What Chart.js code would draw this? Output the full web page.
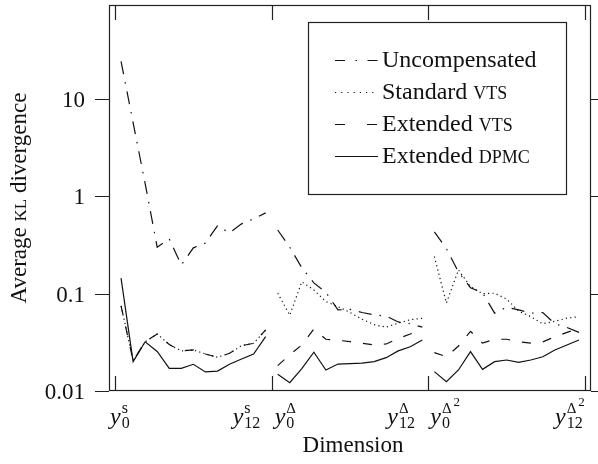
<!DOCTYPE html>
<html>
<head>
<meta charset="utf-8">
<script src="https://cdn.jsdelivr.net/npm/chart.js@4"></script>
<style>
    html, body { margin: 0; padding: 0; background: #fff; }
    #wrap { width: 598px; height: 464px; }
</style>
</head>
<body>
<div id="wrap"><canvas id="chart" width="598" height="464"></canvas></div>
<script>
// Data: 13 dimensions (y0..y12) for each group: static, delta, delta-delta
const groupSize = 13;

const uncompensated = [
    [24.2, 5.7, 1.35, 0.30, 0.365, 0.197, 0.295, 0.33, 0.497, 0.42, 0.52, 0.586, 0.675],
    [0.45, 0.30, 0.184, 0.129, 0.103, 0.068, 0.069, 0.064, 0.0605, 0.0588, 0.0512, 0.049, 0.0452],
    [0.43, 0.29, 0.167, 0.115, 0.102, 0.063, 0.0725, 0.068, 0.063, 0.064, 0.049, 0.045, 0.040]
];
const standardVts = [
    [0.075, 0.0205, 0.032, 0.0385, 0.030, 0.0258, 0.0264, 0.024, 0.0222, 0.0244, 0.0292, 0.0309, 0.0424],
    [0.101, 0.060, 0.132, 0.109, 0.083, 0.0735, 0.064, 0.0546, 0.048, 0.0452, 0.0497, 0.054, 0.0558],
    [0.24, 0.08, 0.175, 0.118, 0.10, 0.101, 0.088, 0.066, 0.058, 0.049, 0.052, 0.056, 0.058]
];
const extendedVts = [
    [0.075, 0.0205, 0.032, 0.0385, 0.030, 0.0258, 0.0264, 0.024, 0.0222, 0.0244, 0.0292, 0.0309, 0.0424],
    [0.0182, 0.0235, 0.0297, 0.0434, 0.034, 0.0332, 0.0321, 0.0309, 0.0297, 0.0304, 0.0345, 0.0385, 0.0434],
    [0.0248, 0.0225, 0.029, 0.041, 0.031, 0.034, 0.034, 0.032, 0.031, 0.032, 0.036, 0.040, 0.044]
];
const extendedDpmc = [
    [0.144, 0.020, 0.032, 0.0255, 0.0171, 0.0171, 0.0188, 0.0157, 0.016, 0.0188, 0.0213, 0.024, 0.0361],
    [0.01485, 0.01217, 0.01695, 0.025, 0.01644, 0.0189, 0.0191, 0.0193, 0.020, 0.022, 0.0258, 0.0285, 0.0334],
    [0.0158, 0.01246, 0.01644, 0.0254, 0.0167, 0.020, 0.0208, 0.0197, 0.0208, 0.0225, 0.0264, 0.0297, 0.0334]
];

// Axis ticks and labels
const yTicks = [0.01, 0.1, 1, 10];
const yTickLabels = ['0.01', '0.1', '1', '10'];
const xTicks = [0, 13, 26, 39];
const xLabelAt = [0, 13, 13, 26, 26, 39];
const xLabelSub = ['0', '12', '0', '12', '0', '12'];
const xLabelSup = ['s', 's', 'Δ', 'Δ', 'Δ', 'Δ'];
const xLabelSup2 = ['', '', '', '', '2', '2'];

// Legend entries: [plain text, small caps text]
const legendNames = [['Uncompensated', ''], ['Standard ', 'VTS'], ['Extended ', 'VTS'], ['Extended ', 'DPMC']];

const SERIF = '"Liberation Serif", "DejaVu Serif", serif';
const INK = '#111';

function toPoints(groups) {
    const pts = [];
    groups.forEach((vals, g) => {
        vals.forEach((v, i) => pts.push({ x: g * groupSize + i + 0.5, y: v }));
        pts.push({ x: (g + 1) * groupSize, y: null });
    });
    return pts;
}

// Text with small caps parts, returns width
function mixedWidth(ctx, parts, size) {
    let w = 0;
    parts.forEach(([plain, caps]) => {
        ctx.font = size + 'px ' + SERIF;
        w += ctx.measureText(plain).width;
        ctx.font = Math.round(size * 0.76) + 'px ' + SERIF;
        w += ctx.measureText(caps).width;
    });
    return w;
}

function drawMixed(ctx, parts, x, y, size) {
    parts.forEach(([plain, caps]) => {
        ctx.font = size + 'px ' + SERIF;
        ctx.fillText(plain, x, y);
        x += ctx.measureText(plain).width;
        ctx.font = Math.round(size * 0.76) + 'px ' + SERIF;
        ctx.fillText(caps, x, y);
        x += ctx.measureText(caps).width;
    });
}

const dashStyles = [[13, 8, 1.5, 8], [1.2, 3.2], [9, 12], []];
const legendDash = [[10, 10.5, 1.5, 10.5], [1.2, 5], [10, 22], []];

const axesPlugin = {
    id: 'axesPlugin',
    afterDraw(chart) {
        const ctx = chart.ctx;
        const a = chart.chartArea;
        const xs = chart.scales.x;
        const ys = chart.scales.y;
        ctx.save();
        ctx.strokeStyle = '#222';
        ctx.fillStyle = INK;
        ctx.lineWidth = 1.2;
        ctx.setLineDash([]);

        // frame
        ctx.strokeRect(a.left + 0.5, a.top + 0.5, a.right - a.left - 1, a.bottom - a.top - 1);

        // y ticks (outward both sides)
        ctx.font = '23px ' + SERIF;
        ctx.textAlign = 'right';
        ctx.textBaseline = 'middle';
        yTicks.forEach((v, i) => {
            const py = Math.round(ys.getPixelForValue(v)) + 0.5;
            ctx.beginPath();
            ctx.moveTo(a.left - 14, py); ctx.lineTo(a.left, py);
            ctx.moveTo(a.right, py); ctx.lineTo(a.right + 8, py);
            ctx.stroke();
            ctx.fillText(yTickLabels[i], a.left - 24, py + 1);
        });

        // x ticks (inward top and bottom)
        xTicks.forEach(v => {
            const px = Math.round(xs.getPixelForValue(v)) + 0.5;
            ctx.beginPath();
            ctx.moveTo(px, a.top); ctx.lineTo(px, a.top + 15);
            ctx.moveTo(px, a.bottom); ctx.lineTo(px, a.bottom - 15);
            ctx.stroke();
        });

        // x tick labels: y with sub and superscripts
        const offsets = [-5, -39, 3, -41, 2, -30];
        ctx.textAlign = 'left';
        ctx.textBaseline = 'alphabetic';
        xLabelAt.forEach((v, i) => {
            let x = xs.getPixelForValue(v) + offsets[i];
            ctx.font = 'italic 24px ' + SERIF;
            ctx.fillText('y', x, 424);
            x += ctx.measureText('y').width + 1;
            ctx.font = '16px ' + SERIF;
            ctx.fillText(xLabelSub[i], x, 428);
            ctx.font = (xLabelSup[i] === 's' ? '16px ' : '15px ') + SERIF;
            ctx.fillText(xLabelSup[i], x, 413);
            const sw = ctx.measureText(xLabelSup[i]).width;
            if (xLabelSup2[i]) {
                ctx.font = '13px ' + SERIF;
                ctx.fillText(xLabelSup2[i], x + sw + 2, 406);
            }
        });

        // axis titles
        ctx.font = '23px ' + SERIF;
        ctx.textAlign = 'center';
        ctx.fillText('Dimension', (a.left + a.right) / 2 + 3, 452);

        ctx.save();
        const yTitle = [['Average ', 'KL'], [' divergence', '']];
        ctx.translate(26, (a.top + a.bottom) / 2);
        ctx.rotate(-Math.PI / 2);
        ctx.textAlign = 'left';
        const tw = mixedWidth(ctx, yTitle, 23);
        drawMixed(ctx, yTitle, -tw / 2, 0, 23);
        ctx.restore();

        // legend
        const lx = 308, ly = 22, lw = 258, lh = 172;
        ctx.fillStyle = '#fff';
        ctx.fillRect(lx, ly, lw, lh);
        ctx.strokeStyle = '#222';
        ctx.strokeRect(lx + 0.5, ly + 0.5, lw, lh);
        ctx.fillStyle = INK;
        ctx.textAlign = 'left';
        legendNames.forEach((parts, i) => {
            const ry = 60 + i * 32;
            ctx.strokeStyle = INK;
            ctx.lineWidth = 1.2;
            ctx.setLineDash(legendDash[i]);
            ctx.beginPath();
            ctx.moveTo(335, ry + 0.5);
            ctx.lineTo(378, ry + 0.5);
            ctx.stroke();
            ctx.setLineDash([]);
            drawMixed(ctx, [parts], 382, ry + 7, 24);
        });
        ctx.restore();
    }
};

const seriesList = [uncompensated, standardVts, extendedVts, extendedDpmc];

new Chart(document.getElementById('chart'), {
    type: 'line',
    data: {
        datasets: seriesList.map((s, i) => ({
            label: legendNames[i].join(''),
            data: toPoints(s),
            borderColor: INK,
            borderWidth: 1.2,
            borderDash: dashStyles[i],
            pointRadius: 0,
            tension: 0,
            fill: false,
            spanGaps: false
        }))
    },
    options: {
        responsive: false,
        animation: false,
        devicePixelRatio: 1,
        layout: { padding: { left: 109, right: 7, top: 5, bottom: 73 } },
        plugins: { legend: { display: false }, tooltip: { enabled: false } },
        scales: {
            x: { type: 'linear', min: -0.5, max: 39.5, bounds: 'data', display: false },
            y: { type: 'logarithmic', min: 0.01, max: 92, bounds: 'data', display: false }
        }
    },
    plugins: [axesPlugin]
});
</script>
</body>
</html>
